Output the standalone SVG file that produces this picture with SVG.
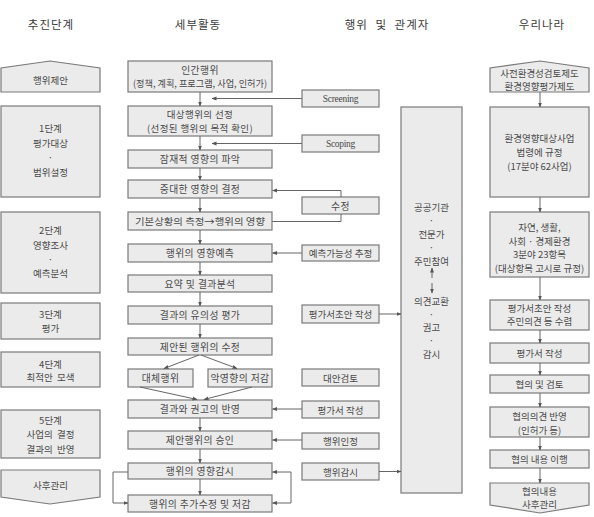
<svg xmlns="http://www.w3.org/2000/svg" width="594" height="517" viewBox="0 0 594 517">
<defs>
<marker id="ah" viewBox="0 0 10 10" refX="9" refY="5" markerWidth="5" markerHeight="5" orient="auto-start-reverse" markerUnits="userSpaceOnUse">
<path d="M0,1 L10,5 L0,9 Z" fill="#555"/>
</marker>
<style>
.b{fill:#ebebeb;stroke:#7a7a7a;stroke-width:1.2}
text{font-family:"Noto Sans CJK KR","Noto Sans",sans-serif;fill:#4a4a4a;text-anchor:middle;dominant-baseline:central;font-size:9.5px}
.h{font-size:11.5px;fill:#3a3a3a;letter-spacing:1px}
.m{font-size:9.8px;letter-spacing:0.4px}
.r{font-size:9.5px}
.e{font-family:"Liberation Serif",serif;font-size:9.5px;letter-spacing:-0.3px}
.c{fill:none;stroke:#666;stroke-width:1}
</style>
</defs>
<rect width="594" height="517" fill="#fff"/>

<g id="headers">
<text class="h" x="51" y="24">추진단계</text>
<text class="h" x="198" y="24">세부활동</text>
<text class="h" x="387" y="24" style="word-spacing:4px">행위 및 관계자</text>
<text class="h" x="542" y="24">우리나라</text>
</g>

<g id="stage0"><polygon class="b" points="1,92 1,68 50,61 100,68 100,92"/><text x="50.5" y="80">행위제안</text></g>
<g id="stage1"><rect class="b" x="1" y="106" width="99" height="91"/><text x="50.5" y="128">1단계</text><text x="50.5" y="143">평가대상</text><text x="50.5" y="157">·</text><text x="50.5" y="172">범위설정</text></g>
<g id="stage2"><rect class="b" x="1" y="212" width="99" height="81"/><text x="50.5" y="230">2단계</text><text x="50.5" y="245">영향조사</text><text x="50.5" y="259">·</text><text x="50.5" y="273">예측분석</text></g>
<g id="stage3"><rect class="b" x="1" y="303" width="99" height="36"/><text x="50.5" y="314">3단계</text><text x="50.5" y="328">평가</text></g>
<g id="stage4"><rect class="b" x="1" y="352" width="99" height="35"/><text x="50.5" y="364">4단계</text><text x="50.5" y="377" style="word-spacing:2px">최적안 모색</text></g>
<g id="stage5"><rect class="b" x="1" y="410" width="99" height="48"/><text x="50.5" y="420">5단계</text><text x="50.5" y="434" style="word-spacing:2px">사업의 결정</text><text x="50.5" y="449" style="word-spacing:2px">결과의 반영</text></g>
<g id="stage6"><polygon class="b" points="1,470 100,470 100,497 50,504 1,497"/><text x="50.5" y="485">사후관리</text></g>

<g id="a1"><rect class="b" x="128" y="61" width="144" height="31"/><text class="m" x="200" y="70">인간행위</text><text x="200" y="83" font-size="9" textLength="134" lengthAdjust="spacingAndGlyphs">(정책, 계획, 프로그램, 사업, 인허가)</text></g>
<g id="a2"><rect class="b" x="128" y="106" width="144" height="30"/><text x="200" y="114" font-size="9.5" letter-spacing="0.4">대상행위의 선정</text><text x="200" y="128" font-size="9.5" letter-spacing="0.4">(선정된 행위의 목적 확인)</text></g>
<g id="a3"><rect class="b" x="128" y="150" width="144" height="18"/><text class="m" x="200" y="159">잠재적 영향의 파악</text></g>
<g id="a4"><rect class="b" x="128" y="180" width="144" height="18"/><text class="m" x="200" y="189">중대한 영향의 결정</text></g>
<g id="a5"><rect class="b" x="128" y="212" width="144" height="18"/><text x="200" y="221" font-size="9.8" textLength="130" lengthAdjust="spacingAndGlyphs">기본상황의 측정→행위의 영향</text></g>
<g id="a6"><rect class="b" x="128" y="244" width="144" height="18"/><text class="m" x="200" y="253">행위의 영향예측</text></g>
<g id="a7"><rect class="b" x="128" y="275" width="144" height="17"/><text class="m" x="200" y="283.5">요약 및 결과분석</text></g>
<g id="a8"><rect class="b" x="128" y="306" width="144" height="18"/><text class="m" x="200" y="315">결과의 유의성 평가</text></g>
<g id="a9"><rect class="b" x="128" y="338" width="144" height="17"/><text class="m" x="200" y="346.5">제안된 행위의 수정</text></g>
<g id="a10"><rect class="b" x="128" y="369" width="65" height="18"/><text class="m" x="160.5" y="378">대체행위</text></g>
<g id="a11"><rect class="b" x="208" y="369" width="64" height="18"/><text class="m" x="240" y="378" letter-spacing="0">악영향의 저감</text></g>
<g id="a12"><rect class="b" x="128" y="400" width="144" height="18"/><text class="m" x="200" y="409">결과와 권고의 반영</text></g>
<g id="a13"><rect class="b" x="128" y="431" width="144" height="18"/><text class="m" x="200" y="440">제안행위의 승인</text></g>
<g id="a14"><rect class="b" x="128" y="463" width="144" height="16"/><text class="m" x="200" y="471">행위의 영향감시</text></g>
<g id="a15"><rect class="b" x="128" y="495" width="144" height="17"/><text class="m" x="200" y="503.5">행위의 추가수정 및 저감</text></g>

<g id="p1"><rect class="b" x="302" y="90" width="77" height="17"/><text class="e" x="340.5" y="98.5">Screening</text></g>
<g id="p2"><rect class="b" x="302" y="135" width="77" height="17"/><text class="e" x="340.5" y="143.5">Scoping</text></g>
<g id="p3"><rect class="b" x="302" y="197" width="77" height="17"/><text class="m" x="340.5" y="205.5">수정</text></g>
<g id="p4"><rect class="b" x="302" y="245" width="77" height="16"/><text x="340.5" y="253">예측가능성 추정</text></g>
<g id="p5"><rect class="b" x="302" y="305" width="77" height="18"/><text x="340.5" y="314">평가서초안 작성</text></g>
<g id="p6"><rect class="b" x="302" y="369" width="77" height="17"/><text x="340.5" y="377.5">대안검토</text></g>
<g id="p7"><rect class="b" x="302" y="401" width="77" height="17"/><text x="340.5" y="409.5">평가서 작성</text></g>
<g id="p8"><rect class="b" x="302" y="433" width="77" height="16"/><text x="340.5" y="441">행위인정</text></g>
<g id="p9"><rect class="b" x="302" y="463" width="77" height="17"/><text x="340.5" y="471.5">행위감시</text></g>

<g id="actors"><rect class="b" x="401" y="107" width="61" height="386"/>
<text x="431.5" y="207">공공기관</text><text x="431.5" y="220">·</text><text x="431.5" y="234">전문가</text><text x="431.5" y="247">·</text><text x="431.5" y="261">주민참여</text>
<text x="431.5" y="301">의견교환</text><text x="431.5" y="314">·</text><text x="431.5" y="327">권고</text><text x="431.5" y="340">·</text><text x="431.5" y="354">감시</text>
</g>

<g id="k1"><polygon class="b" points="490,92 490,68 540,61 589,68 589,92"/><text class="r" x="539.5" y="73">사전환경성검토제도</text><text class="r" x="539.5" y="86">환경영향평가제도</text></g>
<g id="k2"><rect class="b" x="490" y="107" width="99" height="90"/><text class="r" x="539.5" y="138">환경영향대상사업</text><text class="r" x="539.5" y="152">법령에 규정</text><text class="r" x="539.5" y="166">(17분야 62사업)</text></g>
<g id="k3"><rect class="b" x="490" y="212" width="99" height="65"/><text class="r" x="539.5" y="227">자연, 생활,</text><text class="r" x="539.5" y="241">사회 · 경제환경</text><text class="r" x="539.5" y="254">3분야 23항목</text><text class="r" x="539.5" y="268">(대상항목 고시로 규정)</text></g>
<g id="k4"><rect class="b" x="490" y="300" width="99" height="30"/><text class="r" x="539.5" y="308">평가서초안 작성</text><text class="r" x="539.5" y="321">주민의견 등 수렴</text></g>
<g id="k5"><rect class="b" x="490" y="343" width="99" height="20"/><text class="r" x="539.5" y="353">평가서 작성</text></g>
<g id="k6"><rect class="b" x="490" y="375" width="99" height="18"/><text class="r" x="539.5" y="384">협의 및 검토</text></g>
<g id="k7"><rect class="b" x="490" y="407" width="99" height="30"/><text class="r" x="539.5" y="416">협의의견 반영</text><text class="r" x="539.5" y="430">(인허가 등)</text></g>
<g id="k8"><rect class="b" x="490" y="450" width="99" height="18"/><text class="r" x="539.5" y="459">협의 내용 이행</text></g>
<g id="k9"><polygon class="b" points="490,483 589,483 589,505 540,513 490,505"/><text class="r" x="539.5" y="491">협의내용</text><text class="r" x="539.5" y="504">사후관리</text></g>

<g id="connectors">
<g class="c" marker-end="url(#ah)">
<line x1="200" y1="92" x2="200" y2="106"/>
<line x1="200" y1="136" x2="200" y2="150"/>
<line x1="200" y1="168" x2="200" y2="180"/>
<line x1="200" y1="198" x2="200" y2="212"/>
<line x1="200" y1="230" x2="200" y2="244"/>
<line x1="200" y1="262" x2="200" y2="275"/>
<line x1="200" y1="292" x2="200" y2="306"/>
<line x1="200" y1="324" x2="200" y2="338"/>
<line x1="199" y1="355" x2="164" y2="368.5"/>
<line x1="201" y1="355" x2="237" y2="368.5"/>
<line x1="140" y1="387" x2="197" y2="399.5"/>
<line x1="252" y1="387" x2="204" y2="399.5"/>
<line x1="200" y1="418" x2="200" y2="431"/>
<line x1="200" y1="449" x2="200" y2="463"/>
<line x1="200" y1="479" x2="200" y2="495"/>
<line x1="302" y1="98.5" x2="212" y2="98.5"/>
<line x1="302" y1="143.5" x2="212" y2="143.5"/>
<polyline points="341,197 341,190.5 272.5,190.5"/>
<line x1="302" y1="253" x2="272.5" y2="253"/>
<line x1="302" y1="409" x2="272.5" y2="409"/>
<line x1="302" y1="440" x2="272.5" y2="440"/>
<line x1="379" y1="314" x2="401" y2="314"/>
<line x1="379" y1="471.5" x2="401" y2="471.5"/>
<polyline points="128,472 113,472 113,503 128,503"/>
<polyline points="272.5,472 291,472 291,503 272.5,503" marker-start="url(#ah)"/>
<line x1="432" y1="278" x2="432" y2="268"/>
<line x1="432" y1="283" x2="432" y2="293"/>
<line x1="540" y1="92" x2="540" y2="107"/>
<line x1="540" y1="197" x2="540" y2="212"/>
<line x1="540" y1="277" x2="540" y2="300"/>
<line x1="540" y1="330" x2="540" y2="343"/>
<line x1="540" y1="363" x2="540" y2="375"/>
<line x1="540" y1="393" x2="540" y2="407"/>
<line x1="540" y1="437" x2="540" y2="450"/>
<line x1="540" y1="468" x2="540" y2="483"/>
</g>
<polyline class="c" points="341,214 341,221.5 272,221.5"/>
</g>
</svg>
